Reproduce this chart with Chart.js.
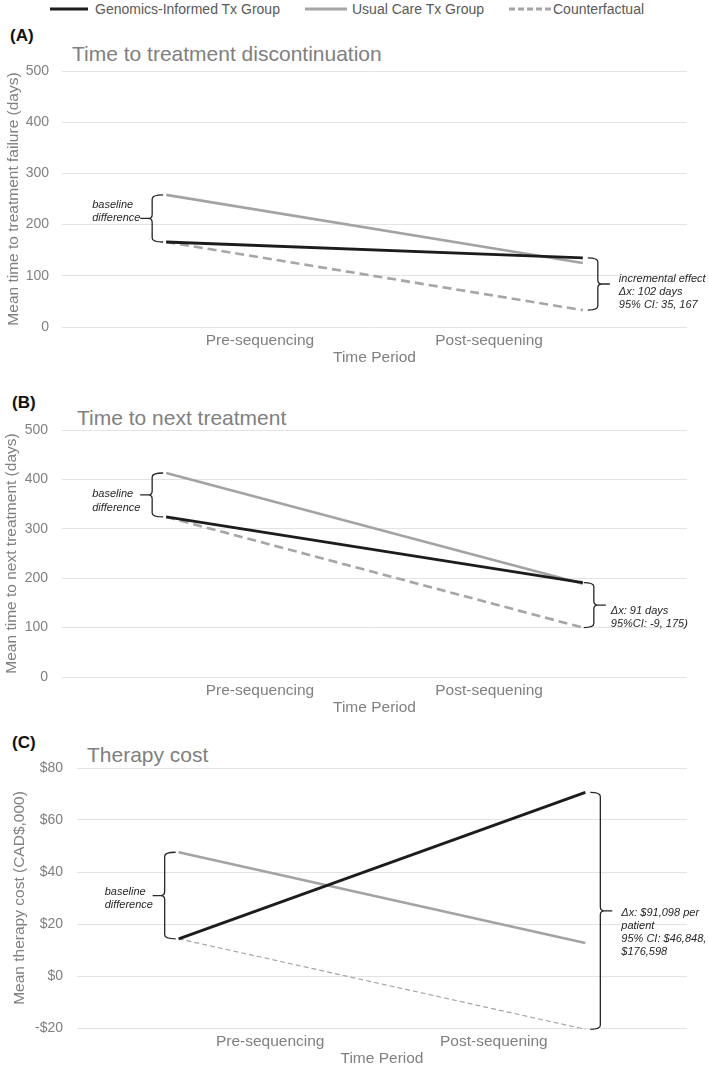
<!DOCTYPE html>
<html>
<head>
<meta charset="utf-8">
<script src="https://cdn.jsdelivr.net/npm/chart.js@4.4.1/dist/chart.umd.min.js"></script>
<style>
  body { margin: 0; background: #fff; width: 709px; height: 1075px; position: relative; overflow: hidden;
         font-family: "Liberation Sans", Arial, sans-serif; }
  .abs { position: absolute; white-space: nowrap; }
  .tag { font-weight: bold; font-size: 17px; line-height: 17px; color: #111; }
  .ttl { font-size: 21px; line-height: 21px; color: #808080; }
  .lg { font-size: 14px; line-height: 14px; color: #595959; }
  canvas { position: absolute; left: 0; }
</style>
</head>
<body>

<!-- legend (shared by the three panels) -->
<svg class="abs" style="left:50px;top:7px" width="38" height="4"><line x1="0" y1="2" x2="38" y2="2" stroke="#1c1c1c" stroke-width="3"/></svg>
<div class="abs lg" style="left:95px;top:2px">Genomics-Informed Tx Group</div>
<svg class="abs" style="left:305px;top:7px" width="42" height="4"><line x1="0" y1="2" x2="42" y2="2" stroke="#a6a6a6" stroke-width="3"/></svg>
<div class="abs lg" style="left:352px;top:2px">Usual Care Tx Group</div>
<svg class="abs" style="left:509px;top:7px" width="42" height="4"><line x1="0" y1="2" x2="42" y2="2" stroke="#a6a6a6" stroke-width="3" stroke-dasharray="6 3"/></svg>
<div class="abs lg" style="left:553px;top:2px">Counterfactual</div>

<div class="abs tag" style="left:10px;top:27px">(A)</div>
<div class="abs ttl" style="left:72px;top:43px">Time to treatment discontinuation</div>
<canvas id="chartA" width="709" height="312" style="top:60px"></canvas>

<div class="abs tag" style="left:12px;top:394px">(B)</div>
<div class="abs ttl" style="left:77px;top:407px">Time to next treatment</div>
<canvas id="chartB" width="709" height="302" style="top:420px"></canvas>

<div class="abs tag" style="left:12px;top:734px">(C)</div>
<div class="abs ttl" style="left:87px;top:744px">Therapy cost</div>
<canvas id="chartC" width="709" height="315" style="top:758px"></canvas>

<script>
// --- data ---------------------------------------------------------------
const periodLabels = ['Pre-sequencing', 'Post-sequening'];
const periodTickPos = [1.9, 4.1];   // label positions on the 0-6 time axis
const periodPointPos = [1, 5];      // where the series points sit
const seriesNames = ['Genomics-Informed Tx Group', 'Usual Care Tx Group', 'Counterfactual'];

// (A) time to treatment discontinuation, days
const ttdGenomics = [166, 135];
const ttdUsual = [258, 125];
const ttdCounter = [166, 33];
const ttdTicks = [0, 100, 200, 300, 400, 500];
const ttdNote = ['incremental effect', '\u0394x: 102 days', '95% CI: 35, 167'];

// (B) time to next treatment, days
const ttntGenomics = [324, 191];
const ttntUsual = [413, 189];
const ttntCounter = [324, 100];
const ttntTicks = [0, 100, 200, 300, 400, 500];
const ttntNote = ['\u0394x: 91 days', '95%CI: -9, 175)'];

// (C) therapy cost, CAD$ thousands
const costGenomics = [14.3, 70.6];
const costUsual = [47.6, 12.7];
const costCounter = [14.3, -20.5];
const costTicks = [-20, 0, 20, 40, 60, 80];
const costTickLabels = ['-$20', '$0', '$20', '$40', '$60', '$80'];
const costNote = ['\u0394x: $91,098 per', 'patient', '95% CI: $46,848,', '$176,598'];

const baselineNote = ['baseline', 'difference'];

// --- helpers ------------------------------------------------------------
Chart.defaults.font.family = '"Liberation Sans", Arial, sans-serif';
const GREY_TEXT = '#808080';

function toPoints(values) {
    return values.map((v, i) => ({ x: periodPointPos[i], y: v }));
}

// curly bracket, tip pointing left (dir -1) or right (dir 1)
function drawBrace(ctx, xHook, xV, y1, y2, dir) {
    const ym = (y1 + y2) / 2, r = 4, tip = xV + dir * 4;
    ctx.beginPath();
    ctx.moveTo(xHook, y1);
    ctx.quadraticCurveTo(xV, y1, xV, y1 + r);
    ctx.lineTo(xV, ym - r);
    ctx.quadraticCurveTo(xV, ym, tip, ym);
    ctx.quadraticCurveTo(xV, ym, xV, ym + r);
    ctx.lineTo(xV, y2 - r);
    ctx.quadraticCurveTo(xV, y2, xHook, y2);
    ctx.moveTo(tip, ym);
    ctx.lineTo(xV + dir * 12, ym);
    ctx.stroke();
}

function drawNote(ctx, lines, x, y0, lh) {
    ctx.font = 'italic 11px "Liberation Sans", Arial, sans-serif';
    ctx.fillStyle = '#262626';
    ctx.textAlign = 'left';
    ctx.textBaseline = 'middle';
    lines.forEach((t, i) => ctx.fillText(t, x, y0 + i * lh));
}

const bracePlugin = {
    id: 'braces',
    afterDatasetsDraw(chart, args, opts) {
        const { ctx, scales: { x, y } } = chart;
        const ds = chart.data.datasets;
        ctx.save();
        ctx.strokeStyle = '#262626';
        ctx.lineWidth = 1.3;

        // baseline difference (pre period)
        const xPre = x.getPixelForValue(periodPointPos[0]);
        const yA = y.getPixelForValue(ds[1].data[0].y);
        const yB = y.getPixelForValue(ds[0].data[0].y);
        const xvL = xPre - 14;
        drawBrace(ctx, xPre - 3, xvL, yA, yB, -1);
        drawNote(ctx, baselineNote, xvL - 60, (yA + yB) / 2 + opts.leftDy, 13.5);

        // incremental effect (post period)
        const xPost = x.getPixelForValue(periodPointPos[1]);
        const yC = y.getPixelForValue(ds[0].data[1].y);
        const yD = y.getPixelForValue(ds[2].data[1].y);
        const xvR = xPost + opts.rightGap;
        drawBrace(ctx, xvR - 10, xvR, yC, yD, 1);
        drawNote(ctx, opts.note, xvR + opts.rightGap + 6, (yC + yD) / 2 + opts.rightDy, 13);
        ctx.restore();
    }
};

function buildPanel(canvasId, cfg) {
    return new Chart(document.getElementById(canvasId), {
        type: 'line',
        data: {
            datasets: [
                { label: seriesNames[0], data: toPoints(cfg.genomics), borderColor: '#1c1c1c', borderWidth: 2.8 },
                { label: seriesNames[1], data: toPoints(cfg.usual), borderColor: '#a3a3a3', borderWidth: 2.6 },
                { label: seriesNames[2], data: toPoints(cfg.counter), borderColor: '#a6a6a6',
                  borderWidth: cfg.dashWidth, borderDash: cfg.dash }
            ]
        },
        options: {
            responsive: false,
            animation: false,
            devicePixelRatio: 1,
            clip: false,
            elements: { point: { radius: 0 }, line: { tension: 0 } },
            layout: { padding: { top: cfg.padTop, right: 22, left: 0, bottom: 0 } },
            plugins: {
                legend: { display: false },
                tooltip: { enabled: false },
                braces: { note: cfg.note, leftDy: cfg.leftDy, rightDy: cfg.rightDy, rightGap: cfg.rightGap }
            },
            scales: {
                x: {
                    type: 'linear', min: 0, max: 6,
                    afterBuildTicks: (s) => { s.ticks = periodTickPos.map(v => ({ value: v })); },
                    afterFit: (s) => { s.height = 45; },
                    grid: { display: false, drawTicks: false },
                    border: { display: false },
                    ticks: {
                        padding: 4, color: GREY_TEXT, font: { size: 15.5 },
                        callback: (v) => periodLabels[periodTickPos.indexOf(v)]
                    },
                    title: { display: true, text: 'Time Period', color: GREY_TEXT,
                             font: { size: 15.5 }, padding: { top: 0, bottom: 5 } }
                },
                y: {
                    min: cfg.ticks[0], max: cfg.ticks[cfg.ticks.length - 1],
                    afterBuildTicks: (s) => { s.ticks = cfg.ticks.map(v => ({ value: v })); },
                    afterFit: (s) => { s.width = cfg.yWidth; s.paddingTop = 0; s.paddingBottom = 0; },
                    grid: { color: '#e3e3e3', lineWidth: 1, drawTicks: false },
                    border: { display: false },
                    ticks: {
                        padding: cfg.yTickPad, color: GREY_TEXT, font: { size: 14 },
                        callback: (v) => cfg.tickLabels ? cfg.tickLabels[cfg.ticks.indexOf(v)] : String(v)
                    },
                    title: { display: true, text: cfg.yTitle, color: GREY_TEXT,
                             font: { size: 15.5 }, padding: { top: cfg.yTitlePad, bottom: 0 } }
                }
            }
        },
        plugins: [bracePlugin]
    });
}

buildPanel('chartA', {
    genomics: ttdGenomics, usual: ttdUsual, counter: ttdCounter, ticks: ttdTicks,
    yTitle: 'Mean time to treatment failure (days)', note: ttdNote,
    dash: [9, 5], dashWidth: 2.6, padTop: 11, yWidth: 62, yTickPad: 13, yTitlePad: 4,
    leftDy: -14, rightDy: -5, rightGap: 15
});

buildPanel('chartB', {
    genomics: ttntGenomics, usual: ttntUsual, counter: ttntCounter, ticks: ttntTicks,
    yTitle: 'Mean time to next treatment (days)', note: ttntNote,
    dash: [9, 5], dashWidth: 2.6, padTop: 10, yWidth: 62, yTickPad: 14, yTitlePad: 2,
    leftDy: -1, rightDy: 6, rightGap: 11
});

buildPanel('chartC', {
    genomics: costGenomics, usual: costUsual, counter: costCounter, ticks: costTicks,
    tickLabels: costTickLabels,
    yTitle: 'Mean therapy cost (CAD$,000)', note: costNote,
    dash: [5, 3], dashWidth: 1.2, padTop: 10, yWidth: 77, yTickPad: 14, yTitlePad: 10,
    leftDy: -4, rightDy: 2, rightGap: 15
});
</script>
</body>
</html>
